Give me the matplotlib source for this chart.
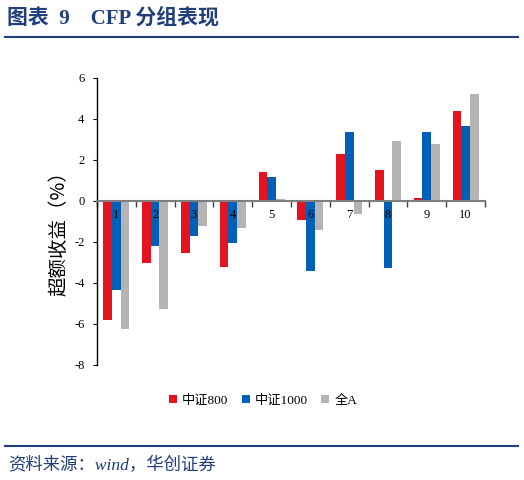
import matplotlib
matplotlib.use("Agg")
import matplotlib.pyplot as plt
import numpy as np

groups = ["1", "2", "3", "4", "5", "6", "7", "8", "9", "10"]
csi800 = [-5.80, -3.02, -2.52, -3.23, 1.43, -0.93, 2.28, 1.53, 0.13, 4.37]
csi1000 = [-4.35, -2.20, -1.69, -2.03, 1.15, -3.40, 3.35, -3.25, 3.35, 3.65]
all_a = [-6.25, -5.28, -1.22, -1.32, 0.10, -1.43, -0.62, 2.93, 2.80, 5.24]
series_names = ["中证800", "中证1000", "全A"]
yticks = [-8, -6, -4, -2, 0, 2, 4, 6]

colors = ["#E5131F", "#0060B7", "#B4B4B4"]
navy = "#1F3E7A"
serif = ["Liberation Serif", "Noto Sans CJK SC"]
cjk = ["Noto Sans CJK SC", "DejaVu Sans"]

fig = plt.figure(figsize=(5.24, 4.8), dpi=100)
ax = fig.add_axes([0.185, 0.2396, 0.7406, 0.5979])

x = np.arange(1, len(groups) + 1)
w = 0.224
for i, (vals, c) in enumerate(zip([csi800, csi1000, all_a], colors)):
    ax.bar(x + (i - 1) * w, vals, width=w, color=c, label=series_names[i])

ax.set_xlim(0.5, len(groups) + 0.5)
ax.set_ylim(-8, 6)
ax.set_yticks(yticks)
ax.set_yticklabels([str(t) for t in yticks], family=serif, fontsize=9)
ax.tick_params(axis="y", direction="out", length=3, width=0.8, pad=6)

ax.spines["top"].set_visible(False)
ax.spines["right"].set_visible(False)
ax.spines["left"].set_linewidth(1.0)
ax.spines["bottom"].set_position(("data", 0))
ax.spines["bottom"].set_color("#7F7F7F")
ax.spines["bottom"].set_linewidth(1.5)

ax.set_xticks(x)
ax.set_xticklabels(groups, family=serif, fontsize=9)
ax.tick_params(axis="x", which="major", length=0, pad=6)
ax.set_xticks(np.arange(0.5, len(groups) + 1, 1.0), minor=True)
ax.tick_params(axis="x", which="minor", direction="out", length=4, width=1.0, color="#404040")

ax.set_ylabel("超额收益（%）", family=cjk, fontsize=14)
ax.yaxis.set_label_coords(-0.072, 0.475)

leg = fig.legend(loc="center", bbox_to_anchor=(0.502, 0.165), ncol=3, frameon=False,
                 handlelength=0.6, handleheight=0.6, handletextpad=0.4, columnspacing=1.0,
                 prop={"family": serif, "size": 9.5})

fig.text(0.013, 0.963, "图表  9    CFP 分组表现", family=serif, fontsize=15,
         fontweight="bold", color=navy, va="center", ha="left")
fig.add_artist(plt.Line2D([0.01, 0.988], [0.923, 0.923], color=navy, lw=1.5))
fig.add_artist(plt.Line2D([0.01, 0.988], [0.071, 0.071], color=navy, lw=1.5))
fig.text(0.015, 0.029, "资料来源：wind，华创证券", family=serif, fontsize=12.5,
         style="italic", color=navy, va="center", ha="left")

fig.savefig("out.png", dpi=100)
